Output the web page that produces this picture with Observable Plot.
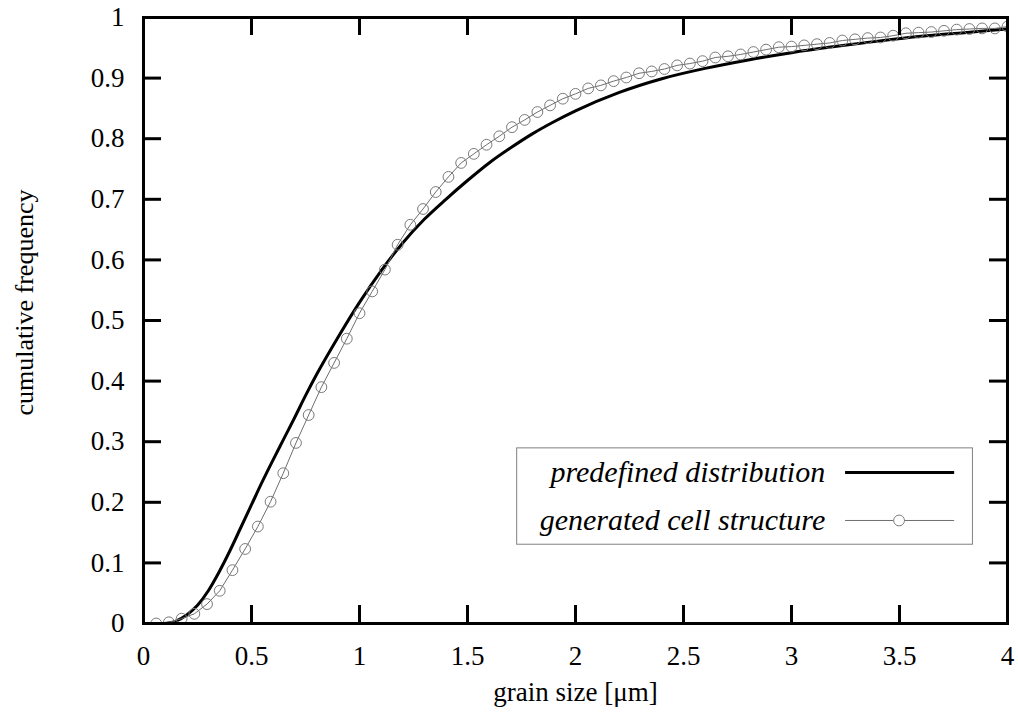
<!DOCTYPE html>
<html>
<head>
<meta charset="utf-8">
<script src="https://cdn.jsdelivr.net/npm/d3@7"></script>
<script src="https://cdn.jsdelivr.net/npm/@observablehq/plot@0.6"></script>
<style>
  html, body { margin: 0; padding: 0; background: #fff; }
  #chart svg { display: block; }
</style>
</head>
<body>
<div id="chart"></div>
<script>
// ---- data ----
const seriesNames = ["predefined distribution", "generated cell structure"];

// predefined distribution (solid curve)
const predefinedX = [0.10,0.15,0.20,0.25,0.30,0.35,0.40,0.45,0.50,0.55,0.60,0.65,0.70,0.75,0.80,0.90,1.00,1.10,1.20,1.30,1.40,1.50,1.60,1.70,1.80,1.90,2.00,2.20,2.40,2.60,2.80,3.00,3.20,3.40,3.60,3.80,4.00];
const predefinedY = [0.000,0.004,0.014,0.030,0.054,0.085,0.120,0.158,0.196,0.234,0.270,0.305,0.340,0.376,0.410,0.472,0.530,0.582,0.628,0.667,0.700,0.731,0.760,0.785,0.808,0.828,0.846,0.876,0.899,0.916,0.930,0.942,0.952,0.961,0.969,0.975,0.981];

// generated cell structure (markers)
const generatedX = [0.0588,0.1176,0.1765,0.2353,0.2941,0.3529,0.4118,0.4706,0.5294,0.5882,0.6471,0.7059,0.7647,0.8235,0.8824,0.9412,1.0000,1.0588,1.1176,1.1765,1.2353,1.2941,1.3529,1.4118,1.4706,1.5294,1.5882,1.6471,1.7059,1.7647,1.8235,1.8824,1.9412,2.0000,2.0588,2.1176,2.1765,2.2353,2.2941,2.3529,2.4118,2.4706,2.5294,2.5882,2.6471,2.7059,2.7647,2.8235,2.8824,2.9412,3.0000,3.0588,3.1176,3.1765,3.2353,3.2941,3.3529,3.4118,3.4706,3.5294,3.5882,3.6471,3.7059,3.7647,3.8235,3.8824,3.9412,4.0000];
const generatedY = [0.000,0.002,0.008,0.016,0.032,0.054,0.088,0.123,0.160,0.201,0.248,0.298,0.344,0.390,0.430,0.470,0.512,0.548,0.584,0.625,0.658,0.684,0.712,0.737,0.760,0.775,0.790,0.804,0.819,0.831,0.844,0.855,0.866,0.874,0.883,0.888,0.895,0.901,0.908,0.911,0.915,0.921,0.924,0.928,0.934,0.936,0.939,0.943,0.947,0.951,0.952,0.954,0.956,0.958,0.962,0.964,0.966,0.967,0.970,0.974,0.975,0.976,0.978,0.980,0.981,0.982,0.982,0.985];

// ticks
const xTicks = [0,0.5,1,1.5,2,2.5,3,3.5,4];
const xTickLabels = ["0","0.5","1","1.5","2","2.5","3","3.5","4"];
const yTicks = [0,0.1,0.2,0.3,0.4,0.5,0.6,0.7,0.8,0.9,1];
const yTickLabels = ["0","0.1","0.2","0.3","0.4","0.5","0.6","0.7","0.8","0.9","1"];
const xLabel = "grain size [μm]";
const yLabel = "cumulative frequency";

// ---- build tables ----
const predefined = predefinedX.map((x, i) => ({x, y: predefinedY[i]}));
const generated = generatedX.map((x, i) => ({x, y: generatedY[i]}));

// ---- layout ----
const W = 1018, H = 717;
const mTop = 17, mLeft = 143, mRight = 11, mBottom = 94;
const innerW = W - mLeft - mRight, innerH = H - mTop - mBottom;
const tickLen = 18;
const serif = "'Liberation Serif', 'DejaVu Serif', serif";

// legend placement (data space)
const legBox = {x1: 1.73, x2: 3.84, y1: 0.130, y2: 0.289};
const legTextX = 3.156, legRowY = [0.249, 0.170];
const legLineX1 = 3.248, legLineX2 = 3.753, legDotX = 3.498;
const legendRows = seriesNames.map((name, i) => ({name, y: legRowY[i], i}));

const plot = Plot.plot({
  width: W, height: H,
  marginTop: mTop, marginLeft: mLeft, marginRight: mRight, marginBottom: mBottom,
  style: {fontFamily: serif, fontSize: "26px", color: "black", background: "white"},
  x: {domain: [0, 4]},
  y: {domain: [0, 1]},
  marks: [
    // curves
    Plot.line(predefined, {x: "x", y: "y", stroke: "black", strokeWidth: 3, curve: "monotone-x", clip: true}),
    Plot.line(generated, {x: "x", y: "y", stroke: "#6e6e6e", strokeWidth: 1, clip: true}),
    Plot.dot(generated, {x: "x", y: "y", r: 5.4, stroke: "#7a7a7a", strokeWidth: 1, fill: "none", clip: true}),
    // legend
    Plot.rect([legBox], {x1: "x1", x2: "x2", y1: "y1", y2: "y2", fill: "white", stroke: "#808080", strokeWidth: 1}),
    Plot.text(legendRows, {x: legTextX, y: "y", text: "name", textAnchor: "end", fontStyle: "italic", fontSize: 30, fill: "black"}),
    Plot.link(legendRows.filter(d => d.i === 0), {x1: legLineX1, x2: legLineX2, y1: "y", y2: "y", stroke: "black", strokeWidth: 3}),
    Plot.link(legendRows.filter(d => d.i === 1), {x1: legLineX1, x2: legLineX2, y1: "y", y2: "y", stroke: "#6e6e6e", strokeWidth: 1}),
    Plot.dot(legendRows.filter(d => d.i === 1), {x: legDotX, y: "y", r: 5.4, stroke: "#7a7a7a", strokeWidth: 1, fill: "white"}),
    // inside ticks on all four sides
    Plot.tickX(xTicks, {x: d => d, insetTop: innerH - tickLen, stroke: "black", strokeWidth: 3}),
    Plot.tickX(xTicks, {x: d => d, insetBottom: innerH - tickLen, stroke: "black", strokeWidth: 3}),
    Plot.tickY(yTicks, {y: d => d, insetRight: innerW - tickLen, stroke: "black", strokeWidth: 3}),
    Plot.tickY(yTicks, {y: d => d, insetLeft: innerW - tickLen, stroke: "black", strokeWidth: 3}),
    Plot.frame({stroke: "black", strokeWidth: 3}),
    // axes
    Plot.axisX({ticks: xTicks, tickFormat: (d) => xTickLabels[xTicks.indexOf(d)], tickSize: 0, tickPadding: 22, fontSize: 27,
      label: xLabel, labelAnchor: "center", labelOffset: 77, labelArrow: false}),
    Plot.axisY({ticks: yTicks, tickFormat: (d) => yTickLabels[yTicks.indexOf(d)], tickSize: 0, tickPadding: 19, fontSize: 27,
      label: null}),
    // y axis title
    Plot.text([yLabel], {frameAnchor: "left", text: d => d, rotate: -90, dx: -(mLeft - 24), dy: -18,
      textAnchor: "middle", lineAnchor: "middle", fontSize: 26, fill: "black"})
  ]
});
document.getElementById("chart").appendChild(plot);
</script>
</body>
</html>
